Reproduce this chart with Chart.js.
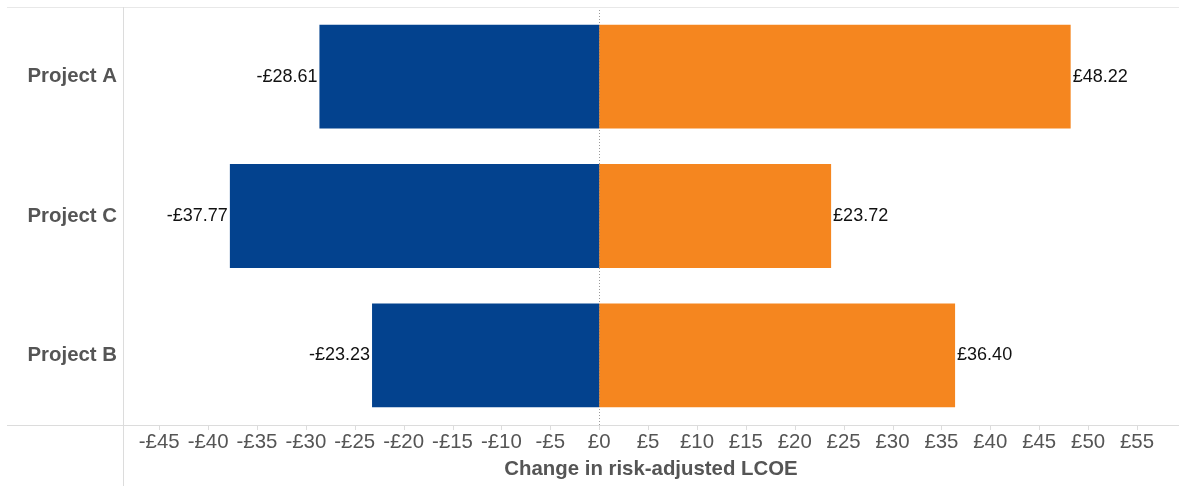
<!DOCTYPE html>
<html>
<head>
<meta charset="utf-8">
<title>Change in risk-adjusted LCOE</title>
<script src="https://cdn.jsdelivr.net/npm/chart.js@4/dist/chart.umd.min.js"></script>
<style>
  html, body { margin: 0; padding: 0; background: #fff; }
  #wrap { width: 1179px; height: 486px; }
</style>
</head>
<body>
<div id="wrap"><canvas id="lcoe" width="1179" height="486"></canvas></div>
<script>
// projects, top to bottom
var projects = ['Project A', 'Project C', 'Project B'];
// downside / upside change in risk-adjusted LCOE (£)
var decrease = [-28.61, -37.77, -23.23];
var increase = [48.22, 23.72, 36.40];
// x axis ticks (£)
var tickValues = [-45, -40, -35, -30, -25, -20, -15, -10, -5, 0, 5, 10, 15, 20, 25, 30, 35, 40, 45, 50, 55];
var axisMin = -48.7, axisMax = 59.3;

var FONT = '"Liberation Sans", Arial, sans-serif';

function money(v) {
    var s = '£' + Math.abs(v).toFixed(2);
    return v < 0 ? '-' + s : s;
}

// no automatic label padding, the plot box is fixed
function noPad(s) {
    s.paddingTop = s.paddingBottom = s.paddingLeft = s.paddingRight = 0;
}

// frame lines, zero line, ticks and bar value labels
var framePlugin = {
    id: 'frame',
    beforeDatasetsDraw: function (chart) {
        var ctx = chart.ctx, a = chart.chartArea, x = chart.scales.x;
        ctx.save();
        var z = Math.round(x.getPixelForValue(0)) + 0.5;
        ctx.strokeStyle = '#9a9a9a';
        ctx.lineWidth = 1;
        ctx.setLineDash([1, 2]);
        ctx.beginPath();
        ctx.moveTo(z, a.top);
        ctx.lineTo(z, a.bottom + 4);
        ctx.stroke();
        ctx.restore();
    },
    afterDatasetsDraw: function (chart) {
        var ctx = chart.ctx, a = chart.chartArea, x = chart.scales.x;
        ctx.save();
        ctx.lineWidth = 1;
        ctx.strokeStyle = '#e8e8e8';
        ctx.beginPath();
        ctx.moveTo(7, a.top + 0.5);
        ctx.lineTo(chart.width, a.top + 0.5);
        ctx.stroke();
        ctx.strokeStyle = '#dcdcdc';
        ctx.beginPath();
        ctx.moveTo(a.left + 0.5, a.top);
        ctx.lineTo(a.left + 0.5, chart.height);
        ctx.moveTo(7, a.bottom + 0.5);
        ctx.lineTo(chart.width, a.bottom + 0.5);
        x.ticks.forEach(function (t) {
            var px = Math.round(x.getPixelForValue(t.value)) + 0.5;
            ctx.moveTo(px, a.bottom);
            ctx.lineTo(px, a.bottom + 5);
        });
        ctx.stroke();

        ctx.font = '18px ' + FONT;
        ctx.fillStyle = '#111';
        ctx.textBaseline = 'middle';
        chart.data.datasets.forEach(function (ds, di) {
            chart.getDatasetMeta(di).data.forEach(function (bar, i) {
                var v = ds.data[i];
                if (v < 0) {
                    ctx.textAlign = 'right';
                    ctx.fillText(money(v), bar.x - 2, bar.y);
                } else {
                    ctx.textAlign = 'left';
                    ctx.fillText(money(v), bar.x + 2, bar.y);
                }
            });
        });
        ctx.restore();
    }
};

new Chart(document.getElementById('lcoe'), {
    type: 'bar',
    data: {
        labels: projects,
        datasets: [{
            label: 'Decrease',
            data: decrease,
            backgroundColor: '#03428e'
        }, {
            label: 'Increase',
            data: increase,
            backgroundColor: '#f5861f'
        }]
    },
    options: {
        indexAxis: 'y',
        responsive: false,
        animation: false,
        layout: { padding: { top: 7, right: 0, left: 0, bottom: 0 } },
        categoryPercentage: 1,
        barPercentage: 0.745,
        scales: {
            x: {
                stacked: true,
                min: axisMin,
                max: axisMax,
                afterFit: function (s) { s.height = 61; noPad(s); },
                afterBuildTicks: function (s) {
                    s.ticks = tickValues.map(function (v) { return { value: v }; });
                },
                ticks: {
                    padding: 5,
                    color: '#555',
                    font: { family: FONT, size: 20.4 },
                    maxRotation: 0,
                    autoSkip: false,
                    callback: function (v) { return v < 0 ? '-£' + Math.abs(v) : '£' + v; }
                },
                grid: { display: false, drawTicks: false },
                border: { display: false },
                title: {
                    display: true,
                    text: 'Change in risk-adjusted LCOE',
                    color: '#555',
                    font: { family: FONT, size: 20.4, weight: 'bold' },
                    padding: { top: 0, bottom: 4 }
                }
            },
            y: {
                stacked: true,
                afterFit: function (s) { s.width = 123; noPad(s); },
                ticks: {
                    padding: 6,
                    color: '#555',
                    font: { family: FONT, size: 20.4, weight: 'bold' }
                },
                grid: { display: false, drawTicks: false },
                border: { display: false }
            }
        },
        plugins: {
            legend: { display: false },
            tooltip: { enabled: false }
        }
    },
    plugins: [framePlugin]
});
</script>
</body>
</html>
